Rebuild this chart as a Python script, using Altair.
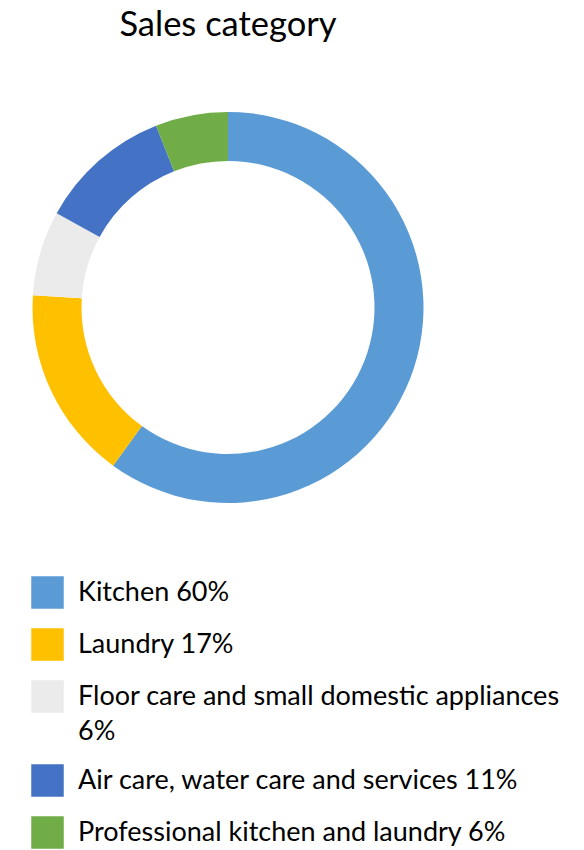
import altair as alt
import pandas as pd

categories = ["Kitchen", "Laundry", "Floor care and small domestic appliances",
              "Air care, water care and services", "Professional kitchen and laundry"]
# segment sizes as measured on the ring (percent)
shares = [60, 16, 7, 11, 6]
colors = ["#5B9BD5", "#FFC000", "#EBEBEB", "#4472C4", "#70AD47"]
legend_labels = ["Kitchen 60%", "Laundry 17%", "Floor care and small domestic appliances|6%",
                 "Air care, water care and services 11%", "Professional kitchen and laundry 6%"]

df = pd.DataFrame({
    "category": categories,
    "share": shares,
    "label": legend_labels,
    "order": list(range(len(categories))),
})

FONT = "Lato"

chart = alt.Chart(df).mark_arc(outerRadius=195.5, innerRadius=146.5).encode(
    theta=alt.Theta("share:Q", stack=True),
    order=alt.Order("order:Q"),
    color=alt.Color(
        "label:N",
        sort=legend_labels,
        scale=alt.Scale(domain=legend_labels, range=colors),
        legend=alt.Legend(
            title=None,
            orient="none",
            legendX=31,
            legendY=516,
            symbolType="square",
            symbolSize=1056,
            symbolStrokeWidth=0,
            symbolOpacity=1,
            labelFont=FONT,
            labelFontSize=27,
            labelColor="#000000",
            labelOffset=14,
            labelLimit=600,
            labelBaseline="top",
            rowPadding=19,
            padding=0,
            labelExpr="split(datum.label, '|')",
        ),
    ),
).properties(
    width=456,
    height=495,
    title=alt.TitleParams("Sales category", anchor="middle", font=FONT, fontSize=34.5,
                          fontWeight="normal", color="#000000", offset=17),
    padding={"top": 60, "left": 0, "right": 128, "bottom": 295},
    autosize=alt.AutoSizeParams(type="none"),
).configure(
    view=alt.ViewConfig(stroke=None),
    style={"guide-label": {"lineHeight": 35, "dy": -13}},
)

chart.save("out.html", embed_options={"renderer": "svg", "actions": False})
